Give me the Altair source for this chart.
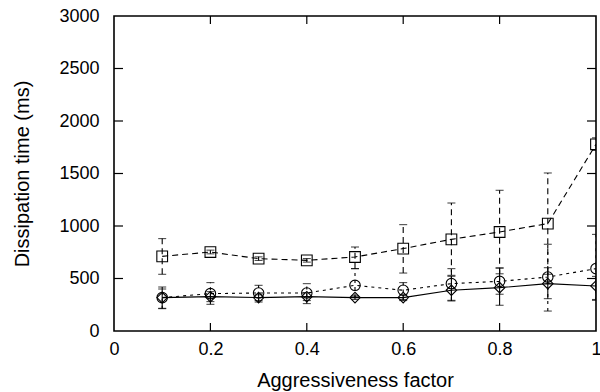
import altair as alt
import pandas as pd

x_vals = [0.1, 0.2, 0.3, 0.4, 0.5, 0.6, 0.7, 0.8, 0.9, 1.0]

sq_mean = [711, 752, 689, 673, 705, 785, 873, 943, 1023, 1778]
sq_low = [540, 735, 672, 656, 594, 552, 530, 545, 540, 1720]
sq_high = [880, 770, 706, 690, 800, 1013, 1219, 1340, 1505, 1840]

ci_mean = [318, 356, 362, 362, 435, 388, 451, 473, 514, 594]
ci_low = [213, 254, 276, 261, 324, 300, 292, 350, 190, 292]
ci_high = [400, 461, 435, 451, 594, 461, 594, 600, 826, 920]

di_mean = [318, 327, 318, 327, 318, 318, 388, 413, 451, 429]
di_low = [216, 280, 290, 290, 300, 290, 286, 245, 308, 300]
di_high = [419, 375, 345, 365, 335, 345, 521, 600, 603, 520]

x_ticks = [0.2, 0.4, 0.6, 0.8]
y_ticks = [500, 1000, 1500, 2000, 2500]

W, H = 482, 315
FONT = "Liberation Sans"

xs = alt.Scale(domain=[0, 1], nice=False, zero=False)
ys = alt.Scale(domain=[0, 3000], nice=False)

x_axis = alt.Axis(values=[0, 0.2, 0.4, 0.6, 0.8, 1.0], format="~g", ticks=False,
                  domain=False, grid=False, labelPadding=9, title="Aggressiveness factor",
                  titlePadding=12, labelFlush=False)
y_axis = alt.Axis(values=[0, 500, 1000, 1500, 2000, 2500, 3000], format="d", ticks=False,
                  domain=False, grid=False, labelPadding=15, title="Dissipation time (ms)",
                  titlePadding=26)


def series(mean, low, high, shape, size, dash):
    df = pd.DataFrame({"x": x_vals, "m": mean, "lo": low, "hi": high})
    base = alt.Chart(df)
    line_kw = dict(color="black", strokeWidth=1.1, clip=True)
    if dash:
        line_kw["strokeDash"] = dash
    line = base.mark_line(**line_kw).encode(
        x=alt.X("x:Q", scale=xs, axis=x_axis), y=alt.Y("m:Q", scale=ys, axis=y_axis))
    err = base.mark_rule(**line_kw).encode(x="x:Q", y="lo:Q", y2="hi:Q")
    cap_lo = base.mark_tick(orient="horizontal", color="black", size=8, thickness=1.1, clip=True).encode(
        x="x:Q", y="lo:Q")
    cap_hi = base.mark_tick(orient="horizontal", color="black", size=8, thickness=1.1, clip=True).encode(
        x="x:Q", y="hi:Q")
    pts = base.mark_point(shape=shape, size=size, filled=False, color="black",
                          strokeWidth=1.1, opacity=1, clip=True).encode(x="x:Q", y="m:Q")
    return [err, cap_lo, cap_hi, line, pts]


layers = []
layers += series(di_mean, di_low, di_high, "diamond", 110, None)
layers += series(ci_mean, ci_low, ci_high, "circle", 110, [3, 4])
layers += series(sq_mean, sq_low, sq_high, "square", 115, [6, 4])

ydf = pd.DataFrame({"v": y_ticks})
xdf = pd.DataFrame({"v": x_ticks})
tick_kw = dict(color="black", strokeWidth=1.2)
layers += [
    alt.Chart(ydf).mark_rule(**tick_kw).encode(y=alt.Y("v:Q", scale=ys), x=alt.value(0), x2=alt.value(9)),
    alt.Chart(ydf).mark_rule(**tick_kw).encode(y=alt.Y("v:Q", scale=ys), x=alt.value(W - 9), x2=alt.value(W)),
    alt.Chart(xdf).mark_rule(**tick_kw).encode(x=alt.X("v:Q", scale=xs), y=alt.value(H), y2=alt.value(H - 8)),
    alt.Chart(xdf).mark_rule(**tick_kw).encode(x=alt.X("v:Q", scale=xs), y=alt.value(0), y2=alt.value(8)),
]

chart = alt.layer(*layers).properties(
    width=W, height=H,
    autosize=alt.AutoSizeParams(type="none"),
    padding={"left": 114, "top": 16, "right": 4, "bottom": 61},
    background="white",
).configure_view(stroke="black", strokeWidth=1.6).configure_axis(
    labelFont=FONT, titleFont=FONT, labelFontSize=18, titleFontSize=20,
    labelColor="black", titleColor="black", titleFontWeight="normal",
)

chart.save("out.html", embed_options={"renderer": "svg", "actions": False})
